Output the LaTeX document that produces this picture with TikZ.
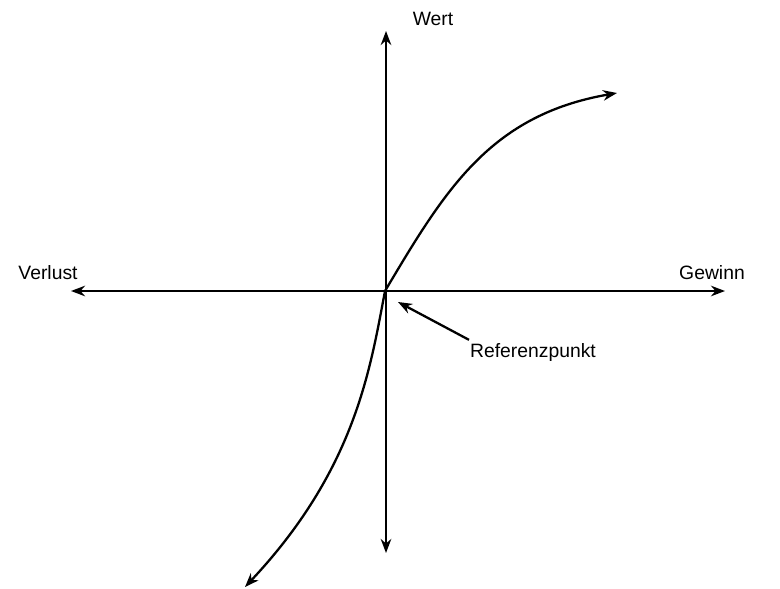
\documentclass[tikz,border=0pt]{standalone}
\usepackage{fontspec}
\setmainfont{Liberation Sans}
\usetikzlibrary{arrows.meta}
\begin{document}
\begin{tikzpicture}[x=0.02cm, y=-0.02cm, line width=1.3pt, >={Stealth[length=8pt, width=6pt]}]
  \useasboundingbox (0,0) rectangle (780,588);
  \coordinate (O) at (385,291);
  \coordinate (left) at (71,291);
  \coordinate (right) at (725,291);
  \coordinate (top) at (386,31);
  \coordinate (bottom) at (386,553);
  \draw[<->] (left) -- (right);
  \draw[<->] (bottom) -- (top);
  \draw[->] (O) .. controls (445,190) and (490,115) .. (617,93);
  \draw[->] (O) .. controls (370,370) and (355,470) .. (245,587);
  \node[font=\fontsize{11}{13}\selectfont] (wert) at (433,19) {Wert};
  \node[font=\fontsize{11}{13}\selectfont] (verlust) at (48,273) {Verlust};
  \node[font=\fontsize{11}{13}\selectfont] (gewinn) at (712,273) {Gewinn};
  \node[font=\fontsize{11}{13}\selectfont, anchor=west, inner sep=0pt] (ref) at (469,352) {Referenzpunkt};
  \coordinate (reftip) at (398,302);
  \draw[->] (ref.north west) ++(0,-2) -- (reftip);
\end{tikzpicture}
\end{document}
